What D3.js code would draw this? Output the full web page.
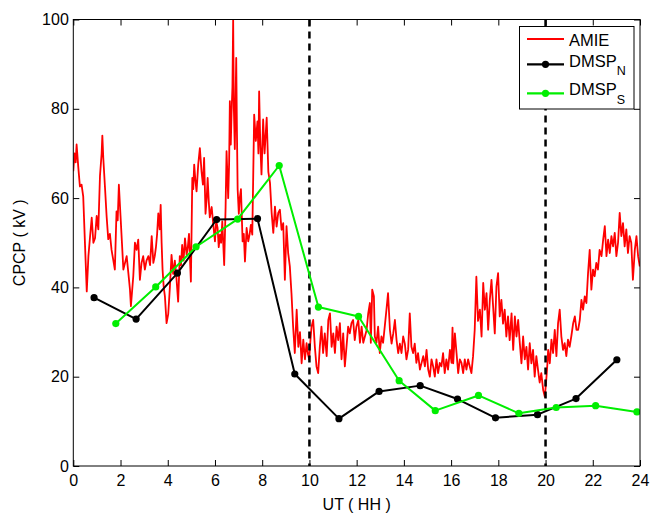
<!DOCTYPE html>
<html><head><meta charset="utf-8">
<script src="https://cdn.jsdelivr.net/npm/d3@7"></script>
<style>
html,body{margin:0;padding:0;background:#fff;}
svg{display:block;font-family:"Liberation Sans",Arial,Helvetica,sans-serif;}
</style></head>
<body><svg id="chart" width="654" height="517"></svg>
<script>
// ---------- data ----------
const amieUT = [0.00,0.05,0.10,0.14,0.21,0.28,0.35,0.42,0.50,0.57,0.64,0.71,0.78,0.85,0.92,0.99,1.06,1.13,1.20,1.23,1.27,1.34,1.41,1.48,1.55,1.62,1.69,1.76,1.83,1.88,1.93,2.00,2.06,2.12,2.19,2.26,2.33,2.40,2.44,2.54,2.61,2.68,2.75,2.82,2.89,2.96,3.03,3.10,3.18,3.25,3.32,3.39,3.45,3.50,3.55,3.60,3.66,3.70,3.74,3.78,3.83,3.88,3.95,4.02,4.09,4.16,4.23,4.30,4.37,4.44,4.51,4.56,4.61,4.67,4.73,4.80,4.85,4.90,4.98,5.04,5.08,5.12,5.17,5.22,5.29,5.36,5.43,5.49,5.54,5.60,5.65,5.69,5.74,5.78,5.86,5.93,6.00,6.05,6.11,6.16,6.21,6.26,6.31,6.39,6.45,6.49,6.56,6.60,6.63,6.67,6.70,6.74,6.77,6.80,6.84,6.90,6.93,6.96,7.01,7.05,7.10,7.17,7.22,7.27,7.34,7.41,7.47,7.52,7.58,7.62,7.66,7.73,7.80,7.84,7.87,7.92,7.97,8.04,8.10,8.19,8.26,8.33,8.40,8.47,8.54,8.61,8.68,8.75,8.82,8.89,8.96,9.03,9.10,9.17,9.24,9.31,9.38,9.46,9.53,9.60,9.67,9.74,9.81,9.88,9.94,9.99,10.04,10.09,10.16,10.23,10.30,10.37,10.44,10.51,10.58,10.65,10.73,10.80,10.87,10.94,11.01,11.08,11.15,11.22,11.29,11.36,11.43,11.50,11.57,11.64,11.71,11.78,11.85,11.92,11.99,12.07,12.14,12.21,12.28,12.35,12.42,12.49,12.56,12.60,12.66,12.73,12.77,12.84,12.91,12.98,13.05,13.12,13.19,13.26,13.33,13.41,13.48,13.55,13.62,13.69,13.76,13.83,13.90,13.97,14.04,14.11,14.18,14.25,14.32,14.39,14.46,14.53,14.60,14.68,14.75,14.82,14.89,14.96,15.03,15.10,15.17,15.24,15.31,15.38,15.45,15.52,15.59,15.66,15.73,15.80,15.87,15.95,16.02,16.06,16.09,16.16,16.23,16.30,16.37,16.44,16.51,16.58,16.65,16.72,16.79,16.86,16.93,17.00,17.07,17.14,17.22,17.29,17.36,17.43,17.50,17.57,17.64,17.71,17.78,17.85,17.92,17.99,18.06,18.13,18.20,18.27,18.34,18.41,18.48,18.56,18.63,18.70,18.77,18.84,18.91,18.98,19.05,19.12,19.19,19.26,19.33,19.40,19.47,19.54,19.61,19.68,19.75,19.82,19.90,19.97,20.04,20.08,20.11,20.18,20.25,20.32,20.39,20.46,20.53,20.60,20.67,20.74,20.81,20.88,20.95,21.02,21.09,21.17,21.24,21.31,21.38,21.45,21.52,21.59,21.66,21.73,21.80,21.87,21.94,22.01,22.08,22.15,22.22,22.29,22.37,22.44,22.51,22.58,22.65,22.72,22.79,22.86,22.93,23.00,23.07,23.14,23.21,23.28,23.35,23.42,23.49,23.56,23.63,23.70,23.78,23.85,23.92,23.99];
const amieCPCP = [66,70,68,72,67,62.6,63,60.4,49,39.1,47,51.4,55.6,50,51,56,53,65,70,74,69,62.6,56,50.8,52,48.4,46.2,44,57,55,63,56,50,44,45.5,47,43.3,39.5,35.8,42.5,50,48.4,50.7,41.7,45.5,47,44,46,47,45,51.5,45.5,47,49,52,56.6,53,58.5,50,44,40,38,32,34,40,47.3,43,46,42,36.8,47,45,49.5,46,51,47.3,49,52,41.3,64.5,62,67.5,64,61.5,67.5,71.2,66,63,69,56.5,60,64.5,59,55.7,58,54,50.3,55,53.3,49,51.8,50,54.8,45,58,70.5,60,68,81.7,72,78.7,85,100,80,71,91.4,75,62,56.5,60,62,50.3,52,45.8,53.3,50.3,52,54,51.8,65,78.7,72.8,77.2,70,83.9,72,65.3,77.6,70,78,65.9,63.4,56.7,52.2,58.1,53.6,56.7,57.4,52.9,54.4,41.7,53.7,47.7,44.7,38.7,31.2,25.3,35,26.7,30,23,28.3,23.9,27.5,25,23.9,28,31.2,32.7,26.7,22.3,20.8,26.7,31.2,25.3,29.7,24.6,32.7,34.2,26.7,29.7,25.3,31.2,28.2,32,23.9,29.7,22.3,26.7,31.2,29.7,32,32.7,28.2,31.2,32.7,27.6,31.2,27.6,29,30.4,34.2,36.5,27.6,39.5,38,29,27.6,31.2,25.3,29,27.6,31.2,34.9,38.7,30.4,27.4,29.7,32.7,28.2,25.3,27.4,25.3,29,27.4,23.9,26,34.2,26.7,25.3,27.4,23.1,25.3,21.6,23.1,24.6,22.3,26,21.6,20,23.9,22.3,20,23.9,20.8,23.1,22.3,25.3,20.8,23.9,21.6,26,23.1,31,23,29.7,25.3,20.8,23.9,23.1,20.8,23.9,21.6,23.9,22.3,20.8,24.6,30.5,42.4,32.5,35,29,41,35,38.7,30.5,37.2,41.7,35.7,29.7,40.2,43.2,33.5,37.2,31.9,35,29,33.5,28.2,34.2,26,33.5,29,32.7,27.5,23,29,23.9,26.7,21.6,27.5,23,26,20,24.6,21.6,18.7,20.8,17,15.5,20,23,26,23,28.3,25.3,30.5,24.6,32,35,29,26,27.5,24.6,28.3,26.7,29,32,33.5,30.5,30.5,32.7,37.2,35,38,36.5,43.2,48.4,39.5,44,42.5,45.5,44,48.4,47,50.7,53.7,47,50.7,47.7,51.5,49.2,52.2,47,50,56.7,51.5,54.4,49.2,53,47.7,51.5,50,41.7,48.4,51.5,47,44.7];

const dmspNUT   = [0.88,2.66,4.41,6.07,7.80,9.38,11.25,12.95,14.69,16.27,17.88,19.66,21.29,23.02];
const dmspNCPCP = [37.7,32.9,43.2,55.2,55.4,20.6,10.6,16.7,18.0,15.0,10.8,11.5,15.1,23.8];

const dmspSUT   = [1.80,3.49,5.20,6.96,8.72,10.38,12.08,13.80,15.33,17.16,18.87,20.45,22.12,23.87];
const dmspSCPCP = [31.9,40.1,49.1,55.3,67.3,35.6,33.5,19.1,12.4,15.8,11.8,13.1,13.5,12.1];

const dashedUT = [10, 20];
const xTicks = [0,2,4,6,8,10,12,14,16,18,20,22,24];
const yTicks = [0,20,40,60,80,100];

// ---------- layout ----------
const svg = d3.select("#chart");
const L = 73.3, R = 640, T = 19.5, B = 466;
const x = d3.scaleLinear().domain([0,24]).range([L,R]);
const y = d3.scaleLinear().domain([0,100]).range([B,T]);
const fontSize = 16;
const RED = "#ff0000", GREEN = "#00ee00", BLACK = "#000";

svg.append("defs").append("clipPath").attr("id","clip")
  .append("rect").attr("x",L).attr("y",T).attr("width",R-L).attr("height",B-T);

// axes (ticks inside)
const axB = d3.axisBottom(x).tickValues(xTicks).tickSizeInner(-6).tickSizeOuter(0).tickPadding(9).tickFormat(d3.format("d"));
const axT = d3.axisTop(x).tickValues(xTicks).tickSizeInner(-6).tickSizeOuter(0).tickFormat("");
const axL = d3.axisLeft(y).tickValues(yTicks).tickSizeInner(-6).tickSizeOuter(0).tickPadding(4.5).tickFormat(d3.format("d"));
const axR = d3.axisRight(y).tickValues(yTicks).tickSizeInner(-6).tickSizeOuter(0).tickFormat("");

function styleAxis(g){
  g.select(".domain").remove();
  g.selectAll("line").attr("stroke","#000").attr("stroke-width",1);
  g.selectAll("text").attr("fill","#000").style("font-size",fontSize+"px")
   .style("font-family",'"Liberation Sans",Arial,Helvetica,sans-serif');
}
svg.append("g").attr("transform",`translate(0,${B})`).call(axB).call(styleAxis);
svg.append("g").attr("transform",`translate(0,${T})`).call(axT).call(styleAxis);
svg.append("g").attr("transform",`translate(${L},0)`).call(axL).call(styleAxis);
svg.append("g").attr("transform",`translate(${R},0)`).call(axR).call(styleAxis);

const plot = svg.append("g").attr("clip-path","url(#clip)");

// AMIE
const amie = amieUT.map((u,i)=>[u, amieCPCP[i]]);
const line = d3.line().x(d=>x(d[0])).y(d=>y(d[1]));
plot.append("path").datum(amie).attr("d",line)
  .attr("fill","none").attr("stroke",RED).attr("stroke-width",1.8).attr("stroke-linejoin","round");

// dashed lines
plot.selectAll("line.dash").data(dashedUT).join("line").attr("class","dash")
  .attr("x1",d=>x(d)).attr("x2",d=>x(d)).attr("y1",T).attr("y2",B)
  .attr("stroke","#000").attr("stroke-width",2.5).attr("stroke-dasharray","7,5");

function series(ut, val, color){
  const pts = ut.map((u,i)=>[u,val[i]]);
  plot.append("path").datum(pts).attr("d",line).attr("fill","none")
    .attr("stroke",color).attr("stroke-width",2).attr("stroke-linejoin","round");
  plot.selectAll(null).data(pts).join("circle")
    .attr("cx",d=>x(d[0])).attr("cy",d=>y(d[1])).attr("r",3.6).attr("fill",color);
}
series(dmspNUT, dmspNCPCP, BLACK);
series(dmspSUT, dmspSCPCP, GREEN);

// frame
svg.append("rect").attr("x",L).attr("y",T).attr("width",R-L).attr("height",B-T)
  .attr("fill","none").attr("stroke","#000").attr("stroke-width",1);

// axis labels
svg.append("text").attr("x",(L+R)/2).attr("y",510).attr("text-anchor","middle")
  .style("font-size",fontSize+"px").text("UT ( HH )");
svg.append("text").attr("transform",`translate(25,${(T+B)/2}) rotate(-90)`).attr("text-anchor","middle")
  .style("font-size",fontSize+"px").text("CPCP ( kV )");

// legend
const lg = svg.append("g");
lg.append("rect").attr("x",519.5).attr("y",26.5).attr("width",114.5).attr("height",82.5)
  .attr("fill","#fff").attr("stroke","#000").attr("stroke-width",1);
const legItems = [
  {name:"AMIE", sub:"", color:RED, w:1.8, marker:false, ly:39, dy:7},
  {name:"DMSP", sub:"N", color:BLACK, w:2.2, marker:true, ly:64.3, dy:2.5},
  {name:"DMSP", sub:"S", color:GREEN, w:2.2, marker:true, ly:93.3, dy:1.8}
];
legItems.forEach(it=>{
  lg.append("line").attr("x1",527).attr("x2",564).attr("y1",it.ly).attr("y2",it.ly)
    .attr("stroke",it.color).attr("stroke-width",it.w);
  if(it.marker) lg.append("circle").attr("cx",545.5).attr("cy",it.ly).attr("r",3.6).attr("fill",it.color);
  const t = lg.append("text").attr("x",569).attr("y",it.ly+it.dy).style("font-size","16.5px").text(it.name);
  if(it.sub) t.append("tspan").attr("dy",8.5).style("font-size","12.5px").text(it.sub);
});
</script></body></html>
